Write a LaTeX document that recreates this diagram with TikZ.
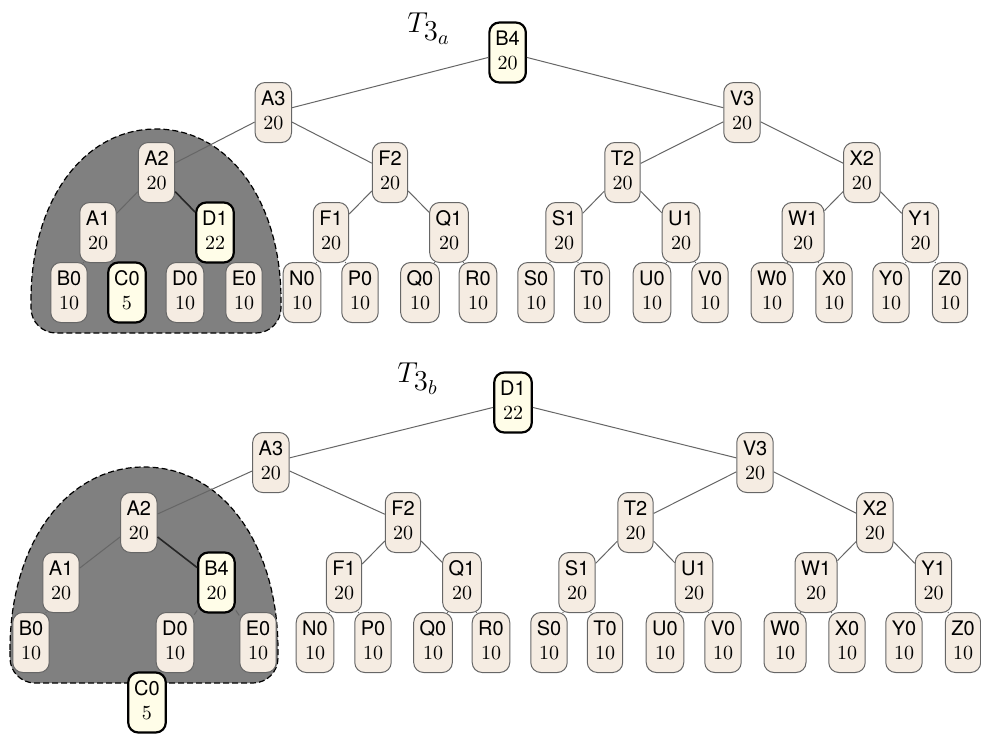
\documentclass[tikz,border=0pt]{standalone}
\usepackage{fontspec}
\newfontfamily\hv{TeX Gyre Heros}
\definecolor{nodefill}{RGB}{245,236,226}
\definecolor{hlfill}{RGB}{255,253,232}
\definecolor{blobfill}{RGB}{128,128,128}
\newcommand\ndtxt[2]{\strut{\hv #1}\\\strut$#2$}
\begin{document}
\begin{tikzpicture}[x=0.5pt,y=-0.5pt,
 nd/.style={draw=black!60, fill=nodefill, rounded corners=5pt, align=center, inner xsep=3pt, inner ysep=3pt, line width=0.5pt},
 hl/.style={draw=black, fill=hlfill, line width=1.1pt},
 ed/.style={draw=black!60, line width=0.5pt},
 edk/.style={draw=black!85, line width=0.8pt},
 blob/.style={fill=blobfill, draw=black, line width=0.6pt, dash pattern=on 3pt off 1.5pt},
 ttl/.style={anchor=base west, inner sep=0pt, font=\Large}]
\useasboundingbox (0,0) rectangle (981,734);

% ---------- blobs ----------
\path[blob] (31,300) .. controls (31,201) and (83.5,129) .. (156,129)
  .. controls (228.5,129) and (281,201) .. (281,300) -- (281,308)
  .. controls (281,321.8) and (269.8,333) .. (256,333) -- (56,333)
  .. controls (42.2,333) and (31,321.8) .. (31,308) -- cycle;
\path[blob] (10,650) .. controls (10,544) and (66,467) .. (144,467)
  .. controls (222,467) and (278,544) .. (278,650) -- (278,658)
  .. controls (278,671.8) and (266.8,683) .. (253,683) -- (35,683)
  .. controls (21.2,683) and (10,671.8) .. (10,658) -- cycle;

% ---------- titles ----------
\node[ttl] (ta) at (407,32) {$T_{\textstyle 3_a}$};
\node[ttl] (tb) at (397,382) {$T_{\textstyle 3_b}$};

% ---------- top tree ----------
\node[nd,hl] (aB4) at (507.6,52.5) {\ndtxt{B4}{20}};
\node[nd] (aA3) at (273.3,112.5) {\ndtxt{A3}{20}};
\node[nd] (aV3) at (742,112.5) {\ndtxt{V3}{20}};
\node[nd] (aA2) at (156.5,172.5) {\ndtxt{A2}{20}};
\node[nd] (aF2) at (390,172.5) {\ndtxt{F2}{20}};
\node[nd] (aT2) at (622.5,172.5) {\ndtxt{T2}{20}};
\node[nd] (aX2) at (861.8,172.5) {\ndtxt{X2}{20}};
\node[nd] (aA1) at (98,232.5) {\ndtxt{A1}{20}};
\node[nd,hl] (aD1) at (215,232.5) {\ndtxt{D1}{22}};
\node[nd] (aF1) at (331,232.5) {\ndtxt{F1}{20}};
\node[nd] (aQ1) at (449,232.5) {\ndtxt{Q1}{20}};
\node[nd] (aS1) at (564,232.5) {\ndtxt{S1}{20}};
\node[nd] (aU1) at (681,232.5) {\ndtxt{U1}{20}};
\node[nd] (aW1) at (803,232.5) {\ndtxt{W1}{20}};
\node[nd] (aY1) at (920.5,232.5) {\ndtxt{Y1}{20}};
\node[nd] (aB0) at (69,292.5) {\ndtxt{B0}{10}};
\node[nd,hl] (aC0) at (127,292.5) {\ndtxt{C0}{5}};
\node[nd] (aD0) at (185,292.5) {\ndtxt{D0}{10}};
\node[nd] (aE0) at (244,292.5) {\ndtxt{E0}{10}};
\node[nd] (aN0) at (302,292.5) {\ndtxt{N0}{10}};
\node[nd] (aP0) at (360,292.5) {\ndtxt{P0}{10}};
\node[nd] (aQ0) at (420,292.5) {\ndtxt{Q0}{10}};
\node[nd] (aR0) at (478,292.5) {\ndtxt{R0}{10}};
\node[nd] (aS0) at (536,292.5) {\ndtxt{S0}{10}};
\node[nd] (aT0) at (592,292.5) {\ndtxt{T0}{10}};
\node[nd] (aU0) at (652,292.5) {\ndtxt{U0}{10}};
\node[nd] (aV0) at (710,292.5) {\ndtxt{V0}{10}};
\node[nd] (aW0) at (772,292.5) {\ndtxt{W0}{10}};
\node[nd] (aX0) at (834,292.5) {\ndtxt{X0}{10}};
\node[nd] (aY0) at (891,292.5) {\ndtxt{Y0}{10}};
\node[nd] (aZ0) at (950,292.5) {\ndtxt{Z0}{10}};

\foreach \p/\c in {B4/A3,B4/V3,A3/A2,A3/F2,V3/T2,V3/X2,A2/A1,F2/F1,F2/Q1,T2/S1,T2/U1,X2/W1,X2/Y1,
  A1/B0,A1/C0,D1/D0,D1/E0,F1/N0,F1/P0,Q1/Q0,Q1/R0,S1/S0,S1/T0,U1/U0,U1/V0,W1/W0,W1/X0,Y1/Y0,Y1/Z0}
  \draw[ed] (a\p) -- (a\c);
\draw[edk] (aA2) -- (aD1);

% ---------- bottom tree ----------
\node[nd,hl] (bD1) at (513,402.5) {\ndtxt{D1}{22}};
\node[nd] (bA3) at (270.9,462.5) {\ndtxt{A3}{20}};
\node[nd] (bV3) at (755,462.5) {\ndtxt{V3}{20}};
\node[nd] (bA2) at (138.8,522.5) {\ndtxt{A2}{20}};
\node[nd] (bF2) at (403,522.5) {\ndtxt{F2}{20}};
\node[nd] (bT2) at (635.5,522.5) {\ndtxt{T2}{20}};
\node[nd] (bX2) at (874.8,522.5) {\ndtxt{X2}{20}};
\node[nd] (bA1) at (61,582.5) {\ndtxt{A1}{20}};
\node[nd,hl] (bB4) at (216.5,582.5) {\ndtxt{B4}{20}};
\node[nd] (bF1) at (344,582.5) {\ndtxt{F1}{20}};
\node[nd] (bQ1) at (462,582.5) {\ndtxt{Q1}{20}};
\node[nd] (bS1) at (577,582.5) {\ndtxt{S1}{20}};
\node[nd] (bU1) at (694,582.5) {\ndtxt{U1}{20}};
\node[nd] (bW1) at (816,582.5) {\ndtxt{W1}{20}};
\node[nd] (bY1) at (933.5,582.5) {\ndtxt{Y1}{20}};
\node[nd] (bB0) at (31,642.5) {\ndtxt{B0}{10}};
\node[nd] (bD0) at (175,642.5) {\ndtxt{D0}{10}};
\node[nd] (bE0) at (258,642.5) {\ndtxt{E0}{10}};
\node[nd] (bN0) at (315,642.5) {\ndtxt{N0}{10}};
\node[nd] (bP0) at (373,642.5) {\ndtxt{P0}{10}};
\node[nd] (bQ0) at (433,642.5) {\ndtxt{Q0}{10}};
\node[nd] (bR0) at (491,642.5) {\ndtxt{R0}{10}};
\node[nd] (bS0) at (549,642.5) {\ndtxt{S0}{10}};
\node[nd] (bT0) at (605,642.5) {\ndtxt{T0}{10}};
\node[nd] (bU0) at (665,642.5) {\ndtxt{U0}{10}};
\node[nd] (bV0) at (723,642.5) {\ndtxt{V0}{10}};
\node[nd] (bW0) at (785,642.5) {\ndtxt{W0}{10}};
\node[nd] (bX0) at (847,642.5) {\ndtxt{X0}{10}};
\node[nd] (bY0) at (904,642.5) {\ndtxt{Y0}{10}};
\node[nd] (bZ0) at (963,642.5) {\ndtxt{Z0}{10}};
\node[nd,hl] (bC0) at (147,702.5) {\ndtxt{C0}{5}};

\foreach \p/\c in {D1/A3,D1/V3,A3/A2,A3/F2,V3/T2,V3/X2,A2/A1,F2/F1,F2/Q1,T2/S1,T2/U1,X2/W1,X2/Y1,
  A1/B0,B4/D0,B4/E0,F1/N0,F1/P0,Q1/Q0,Q1/R0,S1/S0,S1/T0,U1/U0,U1/V0,W1/W0,W1/X0,Y1/Y0,Y1/Z0}
  \draw[ed] (b\p) -- (b\c);
\draw[edk] (bA2) -- (bB4);
\end{tikzpicture}
\end{document}
